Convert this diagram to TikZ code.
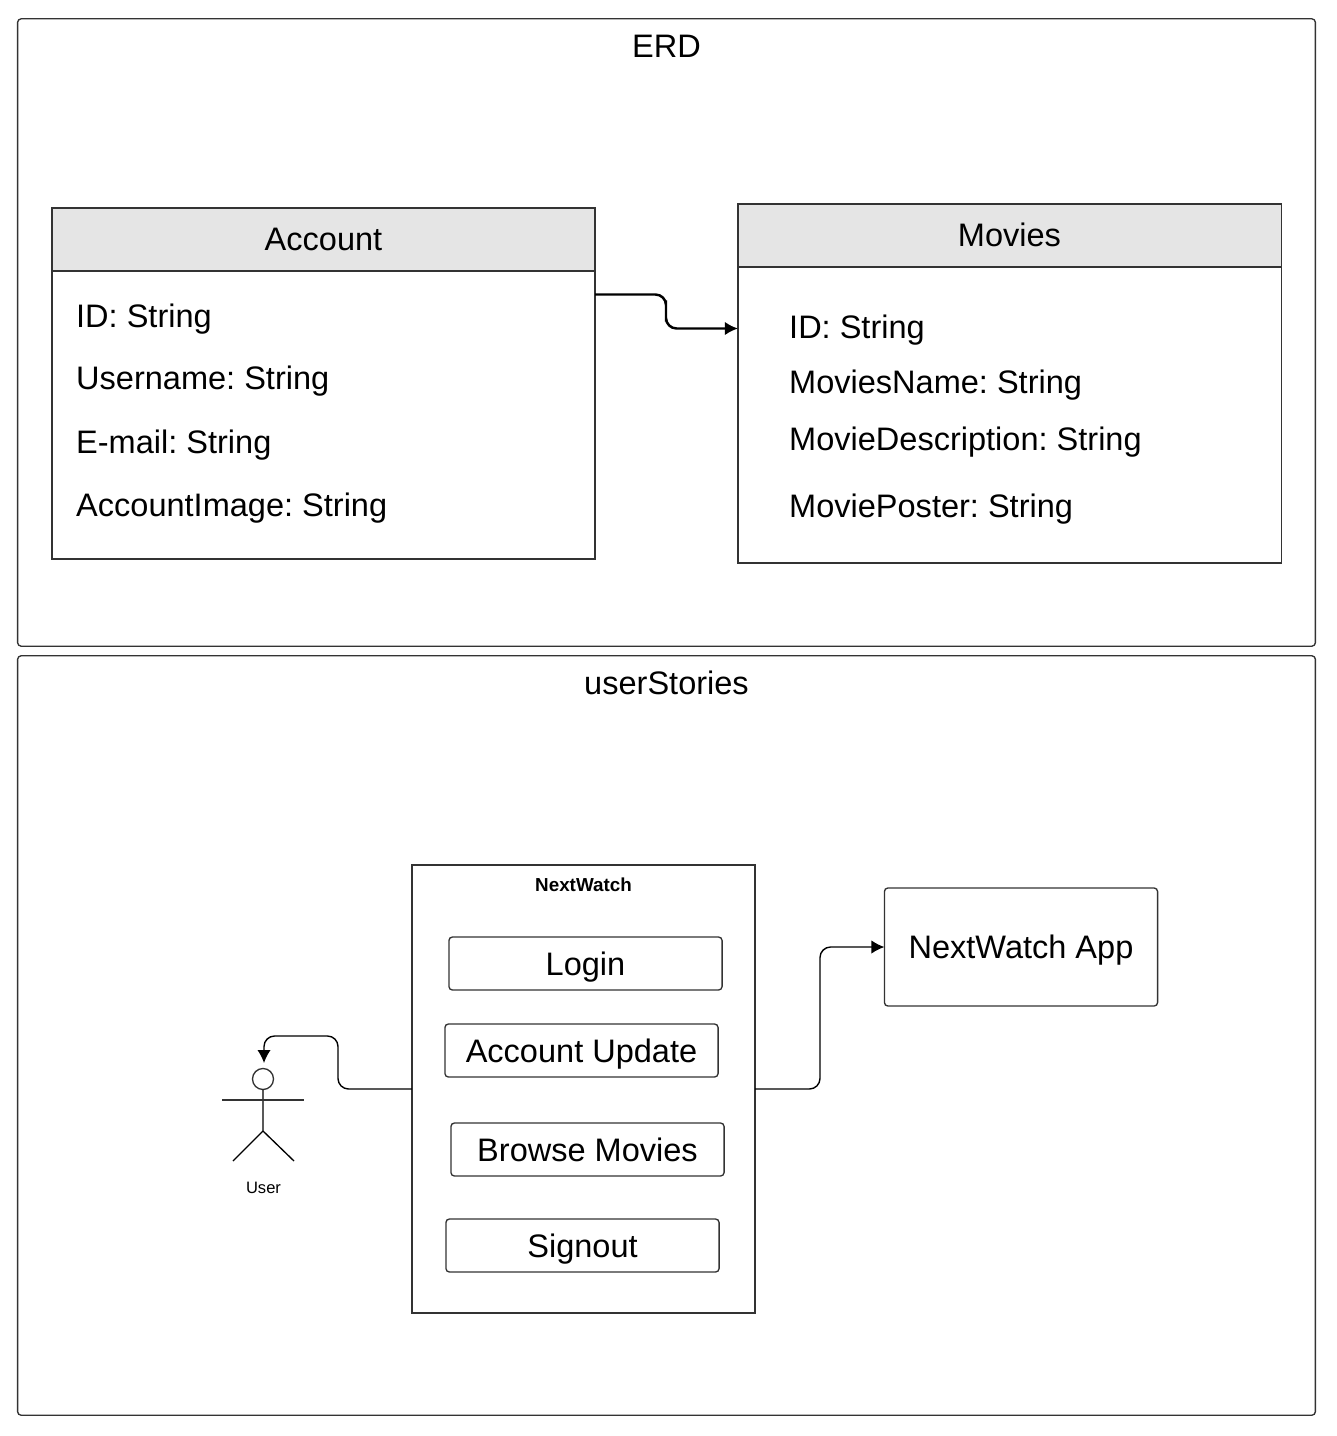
\documentclass[tikz,border=0pt]{standalone}
\usepackage{fontspec}
\setmainfont{Liberation Sans}
\usetikzlibrary{arrows.meta}
\tikzset{>={Latex[length=3.7pt,width=3.8pt]}}
\tikzset{
  box/.style={draw=black!80,line width=0.38pt,inner sep=0pt,outer sep=0pt},
  txt/.style={font=\fontsize{9.25}{11}\selectfont,inner sep=0pt,text height=8.3pt,text depth=1.5pt},
  attr/.style={font=\fontsize{9.25}{11}\selectfont,inner sep=0pt,anchor=base west},
  title/.style={font=\fontsize{9.25}{11}\selectfont,inner sep=0pt,anchor=base},
  frame/.style={box,rounded corners=1pt,minimum width=12.97cm},
  head/.style={box,txt,text height=7.8pt,fill=black!10,minimum width=5.43cm,minimum height=0.63cm},
  body/.style={box,minimum width=5.43cm},
  btn/.style={box,txt,rounded corners=1pt,minimum width=2.73cm,minimum height=0.53cm},
  flow/.style={->,line width=0.4pt,rounded corners=3pt}
}
\begin{document}
\frenchspacing
\begin{tikzpicture}[x=0.01cm,y=-0.01cm]
    \useasboundingbox (0,0) rectangle (1336,1436);
    %frames
    \node[frame,minimum height=6.27cm] (erdFrame) at (666.5,332.5) {};
    \node[title] (erdTitle) at (666.5,57) {ERD};
    \node[frame,minimum height=7.59cm] (storyFrame) at (666.5,1035.5) {};
    \node[title] (storyTitle) at (666.5,694) {userStories};
    % Account
    \node[head] (accountHead) at (323.5,239.5) {Account};
    \node[body,minimum height=2.88cm] (accountBody) at (323.5,415) {};
    \node[attr] (accountId) at (75.5,327) {ID: String};
    \node[attr] (accountName) at (75.5,389) {Username: String};
    \node[attr] (accountMail) at (75.5,453) {E-mail: String};
    \node[attr] (accountImage) at (75.5,516) {AccountImage: String};
    % Movies
    \node[head] (moviesHead) at (1009.5,235.5) {Movies};
    \node[body,minimum height=2.96cm] (moviesBody) at (1009.5,415) {};
    \node[attr] (moviesId) at (788.5,338) {ID: String};
    \node[attr] (moviesName) at (788.5,393) {MoviesName: String};
    \node[attr] (moviesText) at (788.5,450) {MovieDescription: String};
    \node[attr] (moviesPoster) at (788.5,517) {MoviePoster: String};
    \coordinate (accountOut) at (595,294.5);
    \coordinate (erdBend) at (666,311);
    \coordinate (moviesIn) at (738,328.5);
    \draw[flow,line width=0.7pt] (accountOut) -| (erdBend) |- (moviesIn);
    % NextWatch
    \node[box,minimum width=3.43cm,minimum height=4.48cm] (nextWatch) at (583.5,1089) {};
    \node[title,font=\fontsize{5.35}{7}\selectfont\bfseries] (nextTitle) at (583.5,891) {NextWatch};
    \node[btn] (login) at (585.5,963.5) {Login};
    \node[btn] (update) at (581.5,1050.5) {Account Update};
    \node[btn] (browse) at (587.5,1149.5) {Browse Movies};
    \node[btn] (signout) at (582.5,1245.5) {Signout};
    \node[btn,minimum height=1.18cm] (nextApp) at (1021,947) {NextWatch App};
    \coordinate (appBend) at (820,947);
    \draw[flow] (nextWatch.east) -| (appBend) -- (nextApp.west);
    % User
    \node[box,circle,minimum size=0.21cm] (userHead) at (263,1079) {};
    \coordinate (userHip) at (263,1131);
    \draw[line width=0.38pt] (userHead.south) -- (userHip) -- (233,1161);
    \draw[line width=0.38pt] (userHip) -- (294,1161);
    \draw[line width=0.38pt,black!80] (222,1100) -- (304,1100);
    \node[title,font=\fontsize{4.7}{6}\selectfont] (userLabel) at (263.5,1193) {User};
    \coordinate (userBend) at (338,1036);
    \coordinate (userIn) at (264,1063);
    \draw[flow] (nextWatch.west) -| (userBend) -| (userIn);
\end{tikzpicture}
\end{document}
